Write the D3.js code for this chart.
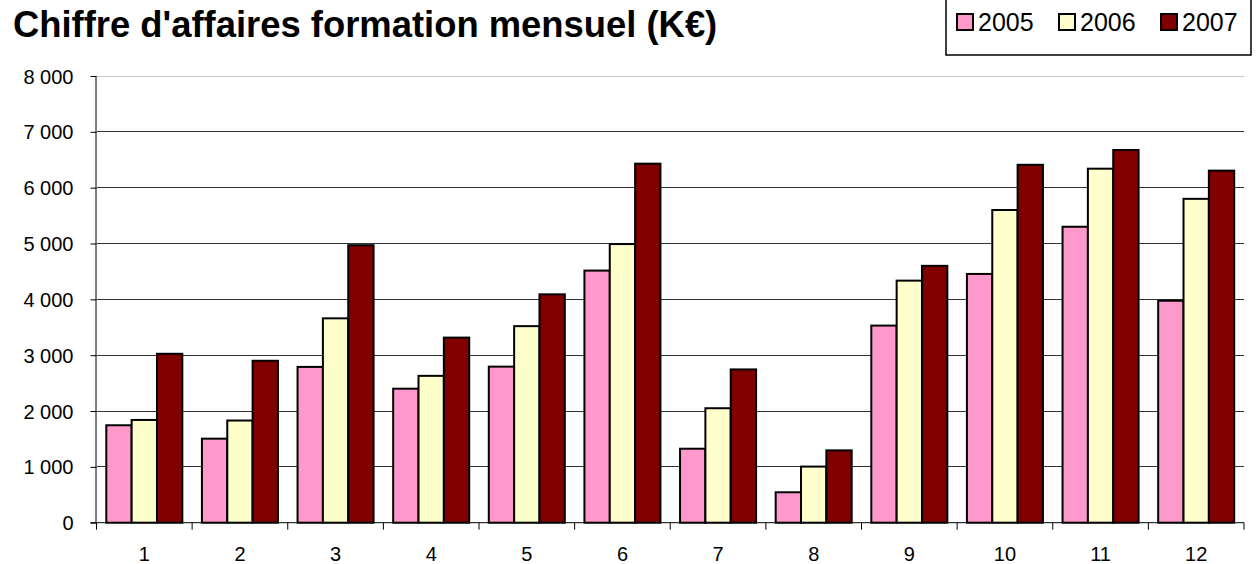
<!DOCTYPE html>
<html><head><meta charset="utf-8">
<script src="https://cdn.jsdelivr.net/npm/d3@7"></script>
<style>body{margin:0;background:#fff}svg{display:block;font-family:"Liberation Sans",Arial,sans-serif}</style>
</head><body><svg id="c" width="1258" height="564"></svg>
<script>
const months = ["1","2","3","4","5","6","7","8","9","10","11","12"];
const seriesNames = ["2005","2006","2007"];
const v2005 = [1745,1505,2790,2400,2795,4515,1325,545,3530,4455,5300,3975];
const v2006 = [1840,1830,3660,2630,3520,4990,2050,1005,4335,5600,6340,5800];
const v2007 = [3025,2900,4970,3315,4090,6430,2745,1295,4600,6410,6675,6305];
const yTicks = [0,1000,2000,3000,4000,5000,6000,7000,8000];
const colors = ["#ff99cc","#ffffcc","#800000"];
const title = "Chiffre d'affaires formation mensuel (K€)";

const svg = d3.select("#c");
const L = 96.5, R = 1244, T = 76, B = 522.7;
const x = d3.scaleBand().domain(months).range([L,R]).paddingInner(0.205).paddingOuter(0.1025);
const x1 = d3.scaleBand().domain(seriesNames).range([0,x.bandwidth()]);
const y = d3.scaleLinear().domain([0,8000]).range([B,T]);
const step = x.step();

// gridlines
svg.append("g").selectAll("line").data(yTicks.filter(d=>d>0)).join("line")
  .attr("x1",L).attr("x2",R).attr("y1",d=>y(d)).attr("y2",d=>y(d))
  .attr("stroke",d=>d===8000?"#c8c8c8":"#333").attr("stroke-width",1).attr("shape-rendering","crispEdges");

// bars
const data = [v2005,v2006,v2007];
const g = svg.append("g");
seriesNames.forEach((s,i)=>{
  g.selectAll(null).data(months).join("rect")
    .attr("x",m=>x(m)+x1(s)).attr("width",x1.bandwidth())
    .attr("y",(m,j)=>y(data[i][j])).attr("height",(m,j)=>B-y(data[i][j]))
    .attr("fill",colors[i]).attr("stroke","#000").attr("stroke-width",2);
});

// y axis
const ya = d3.axisLeft(y).tickValues(yTicks).tickSize(6).tickPadding(17)
  .tickFormat(d=>d3.format(",")(d).replace(",", " "));
const yg = svg.append("g").attr("transform",`translate(${L},0)`).call(ya);
yg.attr("font-family",null).attr("font-size",null);
yg.select(".domain").attr("d",`M-0.5,${T}V${B}`).attr("stroke","#000");
yg.selectAll("text").style("font-size","20px").attr("fill","#000").attr("dy","0.35em");
yg.selectAll(".tick line").attr("stroke","#000");

// x axis
const xg = svg.append("g").attr("transform",`translate(0,${B})`);
xg.append("line").attr("x1",L-6).attr("x2",R).attr("y1",0).attr("y2",0).attr("stroke","#000");
xg.selectAll(".xt").data(d3.range(months.length+1)).join("line")
  .attr("x1",i=>L+i*step).attr("x2",i=>L+i*step).attr("y1",0).attr("y2",7).attr("stroke","#000");
xg.selectAll("text").data(months).join("text")
  .attr("x",m=>x(m)+x.bandwidth()/2).attr("y",38).attr("text-anchor","middle")
  .style("font-size","20px").text(m=>m);

// title
svg.append("text").attr("x",13).attr("y",37).style("font-size","36.4px").attr("font-weight","bold").text(title);

// legend
svg.append("rect").attr("x",946).attr("y",-1).attr("width",305).attr("height",56)
  .attr("fill","#fff").attr("stroke","#000").attr("stroke-width",1.5);
const lx = [957,1059,1161];
seriesNames.forEach((s,i)=>{
  svg.append("rect").attr("x",lx[i]).attr("y",14).attr("width",16).attr("height",16)
    .attr("fill",colors[i]).attr("stroke","#000").attr("stroke-width",2);
  svg.append("text").attr("x",lx[i]+21).attr("y",31).style("font-size","25px").text(s);
});
</script></body></html>
